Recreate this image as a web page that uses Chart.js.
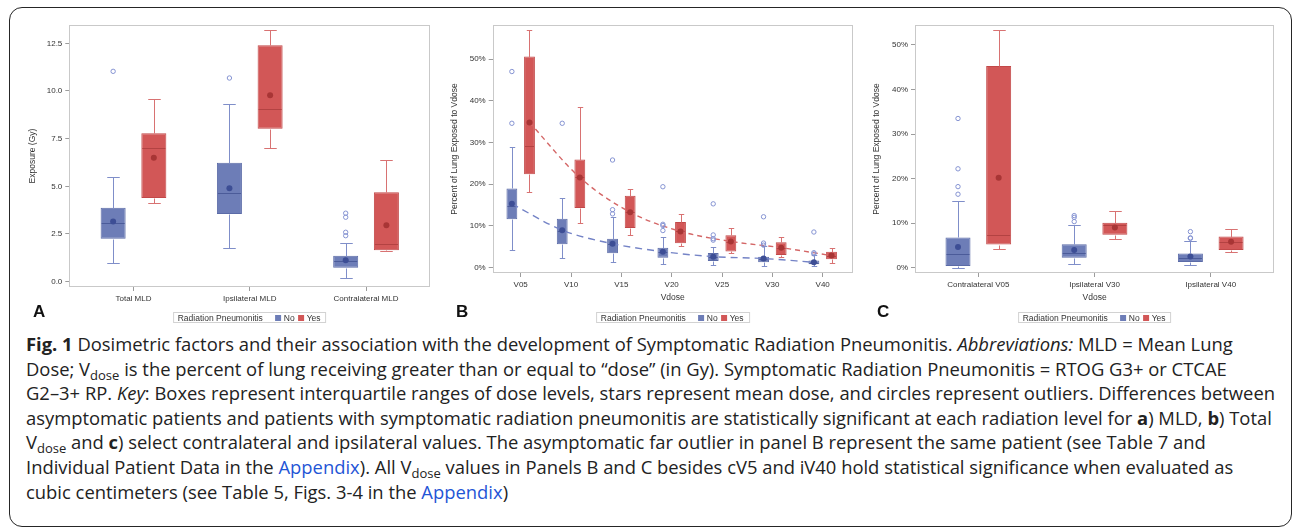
<!DOCTYPE html>
<html>
<head>
<meta charset="utf-8">
<script src="https://cdn.jsdelivr.net/npm/chart.js@4.4.0/dist/chart.umd.min.js"></script>
<style>
  html, body { margin: 0; padding: 0; background: #fff; width: 1292px; height: 527px; overflow: hidden; position: relative; }
  #frame { position: absolute; left: 9px; top: 7px; width: 1283px; height: 520px; box-sizing: border-box;
           border: 1.6px solid #262626; border-radius: 13px; }
  canvas { position: absolute; }
  .letter { position: absolute; font: bold 17px "Liberation Sans", Arial, sans-serif; line-height: 17px; color: #111; }
  .legend { position: absolute; top: 312px; height: 11px; box-sizing: border-box; border: 1px solid #d2d2d2;
            font: 8.5px "Liberation Sans", Arial, sans-serif; color: #333; white-space: nowrap;
            display: flex; align-items: center; padding: 0 4px 0 4px; transform: translateX(-50%); }
  .legend .sw { display: inline-block; width: 6px; height: 6px; margin: 0 3px 0 0; }
  .legend .t { margin-right: 12px; }
  .legend .g { margin-right: 3px; }
  .legend .g:last-child { margin-right: 1px; }
  #caption { position: absolute; left: 26px; top: 332px; font: 18.4px "Open Sans", sans-serif; line-height: 24.6px;
             color: #222; white-space: nowrap; }
  #caption sub { font-size: 13px; vertical-align: -4px; line-height: 0; }
  #caption .lnk { color: #1f55d6; }
</style>
</head>
<body>
<div id="frame"></div>
<canvas id="chartA" width="430" height="297" style="left:10px;top:10px"></canvas>
<canvas id="chartB" width="420" height="293" style="left:440px;top:10px"></canvas>
<canvas id="chartC" width="430" height="293" style="left:862px;top:10px"></canvas>
<div id="caption">
<b>Fig. 1</b> Dosimetric factors and their association with the development of Symptomatic Radiation Pneumonitis. <i>Abbreviations:</i> MLD = Mean Lung<br>
Dose; V<sub>dose</sub> is the percent of lung receiving greater than or equal to “dose” (in Gy). Symptomatic Radiation Pneumonitis = RTOG G3+ or CTCAE<br>
G2–3+ RP. <i>Key</i>: Boxes represent interquartile ranges of dose levels, stars represent mean dose, and circles represent outliers. Differences between<br>
asymptomatic patients and patients with symptomatic radiation pneumonitis are statistically significant at each radiation level for <b>a</b>) MLD, <b>b</b>) Total<br>
V<sub>dose</sub> and <b>c</b>) select contralateral and ipsilateral values. The asymptomatic far outlier in panel B represent the same patient (see Table 7 and<br>
Individual Patient Data in the <span class="lnk">Appendix</span>). All V<sub>dose</sub> values in Panels B and C besides cV5 and iV40 hold statistical significance when evaluated as<br>
cubic centimeters (see Table 5, Figs. 3-4 in the <span class="lnk">Appendix</span>)
</div>
<script>
// box rows are [lower whisker, q1, median, q3, upper whisker]
const groups = ["No", "Yes"];
const legendTitle = "Radiation Pneumonitis";

// panel A - mean lung dose
const aCats = ["Total MLD", "Ipsilateral MLD", "Contralateral MLD"];
const aTicks = [0, 2.5, 5, 7.5, 10, 12.5];
const aNoBox = [[1.0, 2.25, 3.06, 3.88, 5.47], [1.77, 3.55, 4.67, 6.24, 9.32], [0.18, 0.73, 1.09, 1.36, 2.05]];
const aNoMean = [3.15, 4.9, 1.12];
const aNoOut = [[11.03], [10.68], [3.59, 3.38, 2.59, 2.41]];
const aYesBox = [[4.13, 4.39, 7.0, 7.78, 9.58], [7.03, 8.02, 9.04, 12.4, 13.2], [1.62, 1.65, 1.98, 4.69, 6.37]];
const aYesMean = [6.5, 9.77, 2.96];
const aYesOut = [[], [], []];

// panel B - total Vdose
const bCats = ["V05", "V10", "V15", "V20", "V25", "V30", "V40"];
const pctTicks = [0, 10, 20, 30, 40, 50];
const bNoBox = [
  [4.2, 11.6, 14.8, 19.0, 29.0],
  [2.25, 5.6, 8.7, 11.7, 16.6],
  [1.3, 3.45, 5.6, 6.95, 12.1],
  [0.8, 2.4, 3.7, 4.8, 7.3],
  [0.6, 1.6, 2.55, 3.5, 5.0],
  [0.5, 1.3, 2.1, 2.65, 5.3],
  [0.4, 0.8, 1.2, 1.7, 3.1]
];
const bNoMean = [15.3, 9.0, 5.75, 3.85, 2.65, 2.2, 1.3];
const bNoOut = [[47.0, 34.6], [34.6], [25.8, 13.9, 12.9], [19.4, 10.4, 10.1, 8.9], [15.3, 7.85, 6.95, 6.6], [12.2, 5.9, 5.4], [8.55, 3.6, 3.3]];
const bYesBox = [
  [18.1, 22.4, 29.2, 50.6, 56.9],
  [10.8, 14.3, 21.7, 25.9, 38.4],
  [7.8, 9.5, 13.3, 17.25, 18.8],
  [5.2, 5.85, 8.7, 10.95, 12.8],
  [3.6, 3.9, 6.2, 7.75, 9.6],
  [2.5, 3.05, 4.75, 6.1, 7.4],
  [1.05, 2.0, 2.9, 3.85, 4.7]
];
const bYesMean = [34.8, 21.6, 13.3, 8.7, 6.3, 4.8, 2.9];
const bYesOut = [[], [], [], [], [], [], []];

// panel C - selected contralateral / ipsilateral Vdose
const cCats = ["Contralateral V05", "Ipsilateral V30", "Ipsilateral V40"];
const cNoBox = [[0.0, 0.4, 3.0, 6.8, 15.0], [0.85, 2.25, 3.2, 5.25, 9.6], [0.55, 1.3, 2.25, 3.2, 5.9]];
const cNoMean = [4.65, 4.0, 2.5];
const cNoOut = [[33.5, 22.2, 18.2, 16.5], [11.7, 11.3, 10.35], [8.1, 6.7, 6.6]];
const cYesBox = [[4.2, 5.2, 7.3, 45.3, 53.4], [6.5, 7.4, 9.5, 10.1, 12.75], [3.5, 4.0, 5.7, 7.0, 8.75]];
const cYesMean = [20.2, 9.05, 5.8];
const cYesOut = [[], [], []];

const CAT_PCT = 0.7;
const BAR_PCT = 0.615;
const OFF = CAT_PCT / 4;

const BLUE = { fill: "#6d7db7", edge: "#5b6ba7", whisker: "#7f8ec9", median: "#4b5b99", mean: "#3d4e95", out: "#8593d2", line: "#7483c6" };
const RED = { fill: "#d25757", edge: "#c24848", whisker: "#d87272", median: "#b34242", mean: "#a83535", out: "#d87272", line: "#d46767" };
const TXT = "#333";
const FONT = "'Liberation Sans', Arial, sans-serif";

function groupSets(label, box, mean, out, col, side) {
  const dx = side * OFF;
  return [
    {
      type: "bar", label, stats: box, col,
      data: box.map((b, i) => ({ x: i, y: [b[1], b[3]] })),
      backgroundColor: col.fill, borderColor: col.edge, borderWidth: 1, borderSkipped: false,
      categoryPercentage: CAT_PCT, barPercentage: BAR_PCT, order: 3
    },
    {
      type: "scatter", label: label + " outliers",
      data: out.flatMap((vals, i) => vals.map(v => ({ x: i + dx, y: v }))),
      pointRadius: 2.2, pointBorderWidth: 1, pointBorderColor: col.out, pointBackgroundColor: "rgba(0,0,0,0)", order: 1
    },
    {
      type: "scatter", label: label + " mean",
      data: mean.map((m, i) => ({ x: i + dx, y: m })),
      pointRadius: 3, pointBorderWidth: 0, pointBackgroundColor: col.mean, order: 0
    }
  ];
}

function meanLine(mean, col, side, dash) {
  return {
    type: "line", data: mean.map((m, i) => ({ x: i + side * OFF, y: m })),
    borderColor: col.line, borderWidth: 1.4, borderDash: dash, pointRadius: 0, fill: false,
    cubicInterpolationMode: "monotone", order: 2
  };
}

const whiskers = {
  id: "whiskers",
  afterDatasetDraw(chart, args) {
    const ds = chart.data.datasets[args.index];
    if (!ds.stats) return;
    const ys = chart.scales.y;
    const ctx = chart.ctx;
    ctx.save();
    ctx.lineWidth = 1;
    args.meta.data.forEach((el, i) => {
      const [lo, q1, med, q3, hi] = ds.stats[i];
      const x = Math.round(el.x) + 0.5;
      const cap = el.width / 4;
      const py = v => Math.round(ys.getPixelForValue(v)) + 0.5;
      ctx.strokeStyle = ds.col.whisker;
      ctx.beginPath();
      if (hi > q3) {
        ctx.moveTo(x, py(q3)); ctx.lineTo(x, py(hi));
      }
      ctx.moveTo(x - cap, py(hi)); ctx.lineTo(x + cap, py(hi));
      if (lo < q1) {
        ctx.moveTo(x, py(q1)); ctx.lineTo(x, py(lo));
      }
      ctx.moveTo(x - cap, py(lo)); ctx.lineTo(x + cap, py(lo));
      ctx.stroke();
      ctx.strokeStyle = ds.col.median;
      ctx.beginPath();
      ctx.moveTo(el.x - el.width / 2 + 1, py(med)); ctx.lineTo(el.x + el.width / 2 - 1, py(med));
      ctx.stroke();
    });
    ctx.restore();
  },
  afterDraw(chart) {
    const a = chart.chartArea;
    const ctx = chart.ctx;
    ctx.save();
    ctx.strokeStyle = "#c9c9c9";
    ctx.lineWidth = 1;
    ctx.strokeRect(Math.round(a.left) + 0.5, Math.round(a.top) + 0.5, Math.round(a.right - a.left) - 1, Math.round(a.bottom - a.top) - 1);
    ctx.restore();
  }
};

function makePanel(id, p) {
  const chart = new Chart(document.getElementById(id), {
    type: "bar",
    data: { datasets: p.datasets },
    options: {
      responsive: false, animation: false, events: [],
      layout: { padding: { top: 15, right: p.padRight, left: 0, bottom: 0 } },
      plugins: { legend: { display: false }, tooltip: { enabled: false } },
      scales: {
        x: {
          type: "linear", min: p.xMin, max: p.xMax, offset: false,
          afterBuildTicks: s => { s.ticks = p.cats.map((c, i) => ({ value: i })); },
          afterFit: s => { s.height = p.xh; },
          ticks: { callback: v => p.cats[v], font: { family: FONT, size: 8 }, color: TXT, padding: 3, maxRotation: 0, autoSkip: false },
          grid: { drawOnChartArea: false, offset: false, tickLength: 4, color: "#9c9c9c" },
          border: { display: false },
          title: { display: !!p.xTitle, text: p.xTitle || "", font: { family: FONT, size: 8.5 }, color: TXT, padding: { top: 0, bottom: 0 } }
        },
        y: {
          min: p.yMin, max: p.yMax,
          afterBuildTicks: s => { s.ticks = p.yTicks.map(v => ({ value: v })); },
          afterFit: s => { s.width = p.yw; },
          ticks: { callback: p.fmt, font: { family: FONT, size: 8 }, color: TXT, padding: 3 },
          grid: { drawOnChartArea: false, tickLength: 4, color: "#9c9c9c" },
          border: { display: false },
          title: { display: true, text: p.yTitle, font: { family: FONT, size: 8.5 }, color: TXT, padding: { top: p.titlePad, bottom: 0 } }
        }
      }
    },
    plugins: [whiskers]
  });
  return chart;
}

const panels = [
  {
    id: "chartA", letter: "A", letterX: 33, cats: aCats, yTicks: aTicks, yMin: -0.28, yMax: 13.46, xMin: -0.552, xMax: 2.55,
    yw: 59.3, xh: 20, padRight: 10, titlePad: 17.6, yTitle: "Exposure (Gy)", fmt: v => v.toFixed(1),
    datasets: [
      ...groupSets("No", aNoBox, aNoMean, aNoOut, BLUE, -1),
      ...groupSets("Yes", aYesBox, aYesMean, aYesOut, RED, 1)
    ]
  },
  {
    id: "chartB", letter: "B", letterX: 456, cats: bCats, yTicks: pctTicks, yMin: -1.27, yMax: 58.15, xMin: -0.556, xMax: 6.596,
    yw: 52.7, xh: 30, padRight: 7.3, titlePad: 9.9, yTitle: "Percent of Lung Exposed to Vdose", xTitle: "Vdose", fmt: v => v + "%",
    datasets: [
      ...groupSets("No", bNoBox, bNoMean, bNoOut, BLUE, -1),
      ...groupSets("Yes", bYesBox, bYesMean, bYesOut, RED, 1),
      meanLine(bNoMean, BLUE, -1, [7, 5]),
      meanLine(bYesMean, RED, 1, [5, 4])
    ]
  },
  {
    id: "chartC", letter: "C", letterX: 877, cats: cCats, yTicks: pctTicks, yMin: -1.19, yMax: 54.49, xMin: -0.545, xMax: 2.547,
    yw: 53, xh: 30, padRight: 17.7, titlePad: 9.6, yTitle: "Percent of Lung Exposed to Vdose", xTitle: "Vdose", fmt: v => v + "%",
    datasets: [
      ...groupSets("No", cNoBox, cNoMean, cNoOut, BLUE, -1),
      ...groupSets("Yes", cYesBox, cYesMean, cYesOut, RED, 1)
    ]
  }
];

panels.forEach(p => {
  const chart = makePanel(p.id, p);
  const canvas = document.getElementById(p.id);
  const left = parseFloat(canvas.style.left);
  const a = chart.chartArea;

  const letter = document.createElement("div");
  letter.className = "letter";
  letter.textContent = p.letter;
  letter.style.left = p.letterX + "px";
  letter.style.top = "303px";
  document.body.appendChild(letter);

  const lg = document.createElement("div");
  lg.className = "legend";
  lg.style.left = (left + (a.left + a.right) / 2) + "px";
  let html = '<span class="t">' + legendTitle + "</span>";
  groups.forEach((g, i) => {
    const col = i === 0 ? BLUE.fill : RED.fill;
    html += '<span class="sw" style="background:' + col + '"></span><span class="g">' + g + "</span>";
  });
  lg.innerHTML = html;
  document.body.appendChild(lg);
});
</script>
</body>
</html>
